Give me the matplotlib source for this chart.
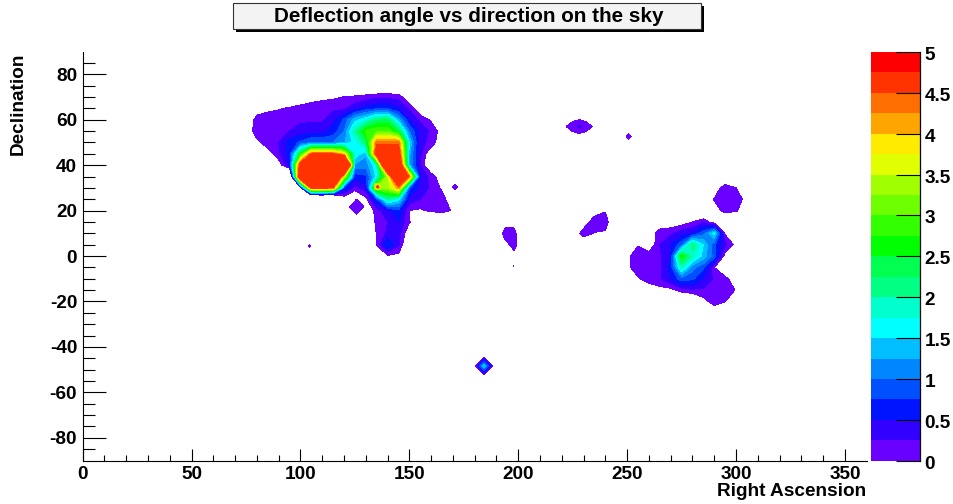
#!/usr/bin/env python3
"""Deflection angle vs direction on the sky, contour map with stepped colour scale."""

import matplotlib
matplotlib.use('Agg')
import matplotlib.pyplot as plt
from matplotlib.patches import Rectangle
from matplotlib.colors import ListedColormap
from matplotlib.transforms import ScaledTranslation

plt.rcParams['font.family'] = ['Liberation Sans', 'DejaVu Sans']
plt.rcParams['font.weight'] = 'bold'
plt.rcParams['axes.unicode_minus'] = False

LEVELS = [i * 0.25 for i in range(21)]
COLORS = ['#6900ff', '#3200ff', '#0014ff', '#0050ff', '#0087ff', '#00beff', '#00ffff',
          '#00ffcd', '#00ff82', '#00ff50', '#00ff00', '#32ff00', '#6eff00', '#a0ff00',
          '#e1ff00', '#ffeb00', '#ffa500', '#ff6e00', '#ff3200', '#ff0000']

# main northern cluster
MAIN_RA = [75, 80, 85, 90, 95, 100, 105, 110, 115, 120, 125, 130, 135, 140, 145, 150, 155, 160, 165, 170]
MAIN_DEC = [75, 70, 65, 60, 55, 50, 45, 40, 35, 30, 25, 20, 15, 10, 5, 0]
MAIN_Z = [
    [-.5, -.5, -.5, -.5, -.5, -.5, -.5, -.5, -.5, -.5, -.5, -.5, -.5, -.5, -.5, -.5, -.5, -.5, -.5, -.5],
    [-.5, -.5, -.5, -.5, -.5, -.46, -.2, -.09, -.05, .01, .05, .11, .18, .2, .15, -.3, -.5, -.5, -.5, -.5],
    [-.5, -.3, -.1, -.03, .05, .2, .2, .2, .2, .2, .4, .6, .7, .7, .5, .2, -.3, -.5, -.5, -.5],
    [-.5, .2, .2, .2, .2, .2, .2, .2, .4, .8, 1.4, 1.7, 2.2, 2.3, 1.3, .5, .2, -.05, -.5, -.5],
    [-.3, .2, .2, .2, .25, .35, .4, .4, .6, 1.0, 2.0, 2.8, 3.0, 3.0, 2.4, 1.0, .4, .2, -.15, -.5],
    [-.5, -.1, .2, .25, .6, .8, 1.0, 1.0, 1.0, 1.2, 1.6, 2.2, 4.4, 4.4, 4.4, 1.5, .3, .2, -.3, -.5],
    [-.5, -.5, -.2, .2, .6, 2.5, 4.5, 4.55, 4.5, 3.8, 1.7, 1.3, 5, 5, 5, 1.3, .3, -.3, -.5, -.5],
    [-.5, -.5, -.5, -.2, .5, 5, 6, 6, 6, 8.7, 1.2, 1.1, 1.7, 7, 5.74, 1.3, .25, -.5, -.5, -.5],
    [-.5, -.5, -.5, -1, -1.5, 6, 7, 7, 7, 3.5, .6, .7, 1.6, 3.3, 6.6, 4.3, .35, .2, -.3, -.5],
    [-.5, -.5, -.5, -.5, -1.5, -.2, 4.6, 4.7, 4.4, .7, .15, .4, 3.3, 3.3, 4.2, .8, .4, .2, -.05, -.5],
    [-.5, -.5, -.5, -.5, -.5, -3, -2.8, -2.8, -2.8, -.27, -.5, -.1, .7, 2.0, 1.6, .4, .25, .2, .1, -.2],
    [-.5, -.5, -.5, -.5, -.5, -.5, -.5, -.5, -.5, -.5, -.5, -.4, .15, .4, .7, 0, -.05, .05, .1, -.03],
    [-.5, -.5, -.5, -.5, -.5, -.5, -.5, -.5, -.5, -.5, -.5, -.5, .1, .25, .5, .02, -.3, -.5, -.5, -.5],
    [-.5, -.5, -.5, -.5, -.5, -.5, -.5, -.5, -.5, -.5, -.5, -.5, .02, .3, .4, -.3, -.5, -.5, -.5, -.5],
    [-.5, -.5, -.5, -.5, -.5, -.5, -.5, -.5, -.5, -.5, -.5, -.5, .02, .75, .3, -.5, -.5, -.5, -.5, -.5],
    [-.5, -.5, -.5, -.5, -.5, -.5, -.5, -.5, -.5, -.5, -.5, -.5, -.5, -.05, -.1, -.5, -.5, -.5, -.5, -.5],
]

# eastern cluster
EAST_RA = [250, 255, 260, 265, 270, 275, 280, 285, 290, 295, 300, 305]
EAST_DEC = [35, 30, 25, 20, 15, 10, 5, 0, -5, -10, -15, -20, -25]
EAST_Z = [
    [-.5, -.5, -.5, -.5, -.5, -.5, -.5, -.5, -.5, -.5, -.5, -.5],
    [-.5, -.5, -.5, -.5, -.5, -.5, -.5, -.5, -.25, .2, 0, -.5],
    [-.5, -.5, -.5, -.5, -.5, -.5, -.5, -.2, .02, .2, .2, -.15],
    [-.5, -.5, -.5, -.5, -.5, -.5, -.3, -.55, -.15, .1, .05, -.3],
    [-.5, -.5, -.5, -.33, -.22, -.17, 0, .2, -.2, -.5, -.5, -.5],
    [-.5, -.5, -.3, .2, .2, .4, .5, .9, 1.6, -.05, -.5, -.5],
    [-.3, -.03, -.3, .25, .5, .9, 2.2, 1.5, .8, .3, -.1, -.5],
    [-.09, .2, .2, .2, .5, 2.7, 1.9, 1.4, .9, -.15, -.5, -.5],
    [-.09, .2, .2, .2, .6, 1.9, 1.1, .8, 0, -.4, -.5, -.5],
    [-.5, -.05, .2, .2, .5, .9, .8, .5, .2, .1, -.2, -.5],
    [-.5, -.5, -.3, -.1, -.1, .1, .2, .2, .2, .2, -.03, -.5],
    [-.5, -.5, -.5, -.5, -.5, -.5, -.5, -.12, .15, .01, -.3, -.5],
    [-.5, -.5, -.5, -.5, -.5, -.5, -.5, -.5, -.3, -.5, -.5, -.5],
]

# small isolated blobs
BLOB_A_RA = [222, 225, 228, 231, 234]
BLOB_A_DEC = [54, 57, 60]
BLOB_A_Z = [[-.2, -.05, 0, -.05, -.2], [0, .15, .3, .15, 0], [-.2, -.05, 0, -.05, -.2]]

BLOB_C_RA = [226, 230, 235, 240, 243]
BLOB_C_DEC = [6, 10, 15, 20, 23]
BLOB_C_Z = [
    [-.3, -.25, -.3, -.3, -.3],
    [-.2, .15, -.02, -.05, -.3],
    [-.3, -.2, .2, .15, -.2],
    [-.3, -.3, -.2, -.02, -.3],
    [-.3, -.3, -.3, -.3, -.3],
]

BLOB_E_RA = [190, 194, 198, 202]
BLOB_E_DEC = [0, 5, 10, 15]
BLOB_E_Z = [
    [-.3, -.3, -.1, -.3],
    [-.3, -.1, .1, -.2],
    [-.3, .15, .2, -.6],
    [-.3, -.15, -.2, -.3],
]

# single-peak spots: centre, half width, peak value, surrounding value
SPOT_RA = [184.3, 125.8, 171.0, 104.3, 250.7, 197.9, 135.4]
SPOT_DEC = [-48.4, 21.7, 30.5, 4.4, 52.6, -4.4, 30.5]
SPOT_HALF = [4.0, 5.0, 2.0, 2.0, 2.0, 1.0, 1.4]
SPOT_PEAK = [1.5, .2, .2, .2, .2, .02, 5.0]
SPOT_EDGE = [-.05, -.1, -.13, -.6, -.13, -.2, 3.3]

XTICKS = [0, 50, 100, 150, 200, 250, 300, 350]
XMINOR = list(range(0, 351, 10))
YTICKS = [-80, -60, -40, -20, 0, 20, 40, 60, 80]
YMINOR = list(range(-85, 86, 5))
BAR_TICKS = [0, 0.5, 1, 1.5, 2, 2.5, 3, 3.5, 4, 4.5, 5]
BAR_LABELS = ['0', '0.5', '1', '1.5', '2', '2.5', '3', '3.5', '4', '4.5', '5']

W, H = 954, 504


def run():
    fig = plt.figure(figsize=(W / 100, H / 100), dpi=100)
    ax = fig.add_axes([82.7 / W, 1 - 460.5 / H, 784 / W, 408.9 / H])

    # everything above 4.5 stays in the same colour on the map
    map_levels = LEVELS[:19] + [1000]
    map_colors = COLORS[:19]

    for ra, dec, z in [(MAIN_RA, MAIN_DEC, MAIN_Z), (EAST_RA, EAST_DEC, EAST_Z),
                       (BLOB_A_RA, BLOB_A_DEC, BLOB_A_Z), (BLOB_C_RA, BLOB_C_DEC, BLOB_C_Z),
                       (BLOB_E_RA, BLOB_E_DEC, BLOB_E_Z)]:
        ax.contourf(ra, dec, z, levels=map_levels, colors=map_colors)

    for r, d, h, p, e in zip(SPOT_RA, SPOT_DEC, SPOT_HALF, SPOT_PEAK, SPOT_EDGE):
        ax.contourf([r - h, r, r + h], [d - h, d, d + h],
                    [[e, e, e], [e, p, e], [e, e, e]],
                    levels=map_levels, colors=map_colors)

    ax.set_xlim(0, 360)
    ax.set_ylim(-90, 90)
    ax.spines['top'].set_visible(False)
    ax.spines['right'].set_visible(False)
    for s in ('left', 'bottom'):
        ax.spines[s].set_linewidth(0.8)
    ax.set_xticks(XTICKS)
    ax.set_xticks(XMINOR, minor=True)
    ax.set_yticks(YTICKS)
    ax.set_yticks(YMINOR, minor=True)
    ax.tick_params(axis='x', which='major', direction='in', length=8.6, width=0.8,
                   labelsize=13.7, pad=4)
    ax.tick_params(axis='x', which='minor', direction='in', length=4.3, width=0.8)
    ax.tick_params(axis='y', which='major', direction='in', length=16.6, width=0.8,
                   labelsize=13.7, pad=4)
    ax.tick_params(axis='y', which='minor', direction='in', length=8.6, width=0.8)

    fig.text(866.5 / W, 1 - 491 / H, 'Right Ascension', ha='right', va='center', fontsize=13.7)
    fig.text(18 / W, 1 - 52.5 / H, 'Declination', ha='center', va='top', rotation=90, fontsize=13.7)

    # colour scale
    cax = fig.add_axes([871 / W, 1 - 460.7 / H, 49.3 / W, 408.7 / H])
    cax.pcolormesh([0, 1], LEVELS, [[i] for i in range(20)], cmap=ListedColormap(COLORS),
                   vmin=0, vmax=20)
    cax.set_xlim(0, 1)
    cax.set_ylim(0, 5)
    cax.set_xticks([])
    for s in ('top', 'left', 'bottom'):
        cax.spines[s].set_visible(False)
    cax.spines['right'].set_linewidth(0.9)
    cax.yaxis.tick_right()
    cax.set_yticks(BAR_TICKS)
    cax.set_yticklabels(BAR_LABELS)
    cax.tick_params(axis='y', direction='in', length=17, width=0.8, labelsize=13.7, pad=3)
    # labels sit a little below their ticks
    shift = ScaledTranslation(0, -1.5 / 100, fig.dpi_scale_trans)
    for lab in cax.get_yticklabels():
        lab.set_transform(lab.get_transform() + shift)

    # title box with drop shadow
    fig.add_artist(Rectangle((236.5 / W, 1 - 32 / H), 467 / W, 26 / H, transform=fig.transFigure,
                             facecolor='black', edgecolor='none'))
    fig.add_artist(Rectangle((233.5 / W, 1 - 29 / H), 467 / W, 26 / H, transform=fig.transFigure,
                             facecolor='#f3f3f3', edgecolor='#333333', linewidth=0.8))
    fig.text(469 / W, 1 - 16 / H, 'Deflection angle vs direction on the sky',
             ha='center', va='center', fontsize=14.9)

    fig.savefig('out.png', dpi=100)
    plt.close(fig)


if __name__ == '__main__':
    run()
